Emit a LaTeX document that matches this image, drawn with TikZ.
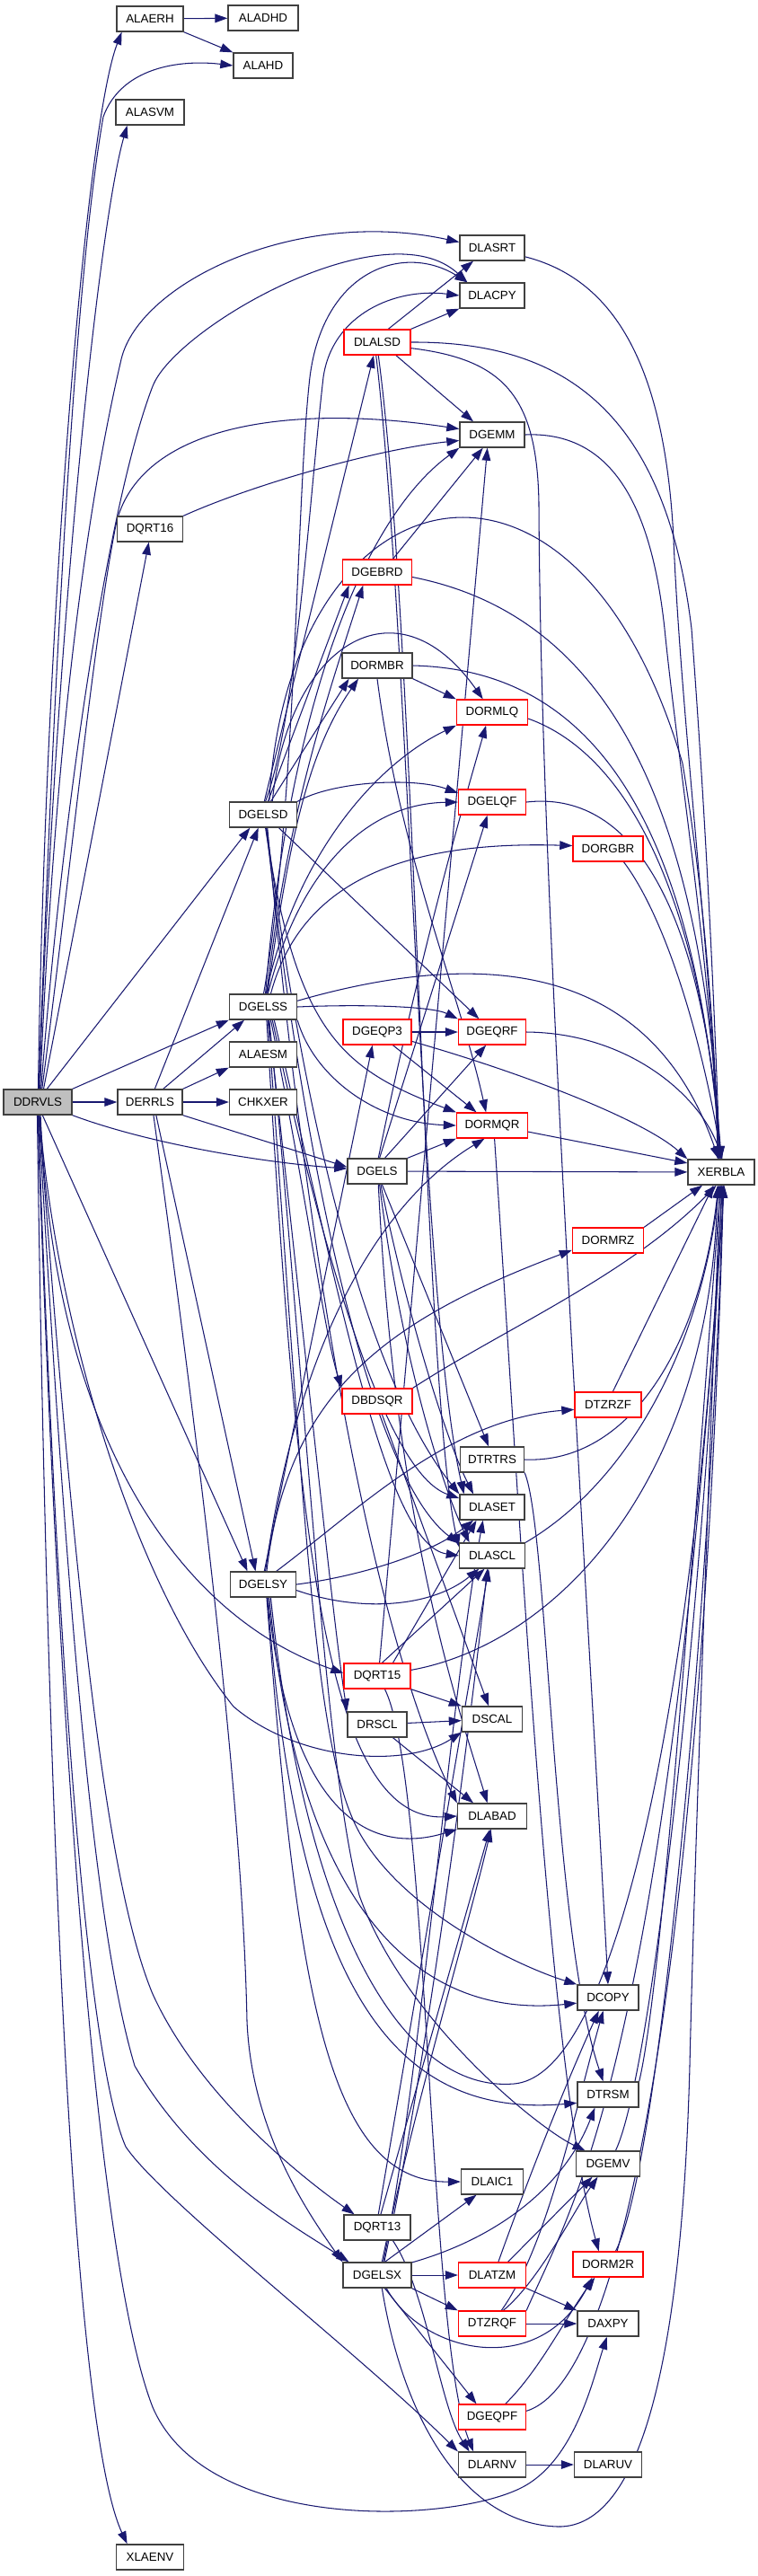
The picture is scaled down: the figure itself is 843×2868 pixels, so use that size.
\documentclass[tikz,border=0pt]{standalone}
\usepackage{fontspec}
\setmainfont{Liberation Sans}
\usetikzlibrary{arrows.meta}
\definecolor{edgec}{HTML}{191970}
\definecolor{rootg}{HTML}{BFBFBF}
\pgfdeclarelayer{bg}
\pgfsetlayers{bg,main}
\tikzset{
  nbox/.style={draw=black!75, line width=0.75pt, fill=white, minimum height=0.56cm, inner sep=0pt, font=\fontsize{7.6pt}{9pt}\selectfont},
  redb/.style={draw=red},
  bw/.style={minimum width=#1*0.02cm},
  ed/.style={draw=edgec, line width=0.6pt, -{Triangle[length=8pt,width=5.5pt]}}
}
\begin{document}
\begin{tikzpicture}[x=0.02cm,y=-0.02cm]
\useasboundingbox (0,0) rectangle (843,2868);
\node[nbox,bw=76,fill=rootg] (DDRVLS) at (42,1227) {DDRVLS};
\node[nbox,bw=74] (ALAERH) at (167,21) {ALAERH};
\node[nbox,bw=78] (ALADHD) at (293,20) {ALADHD};
\node[nbox,bw=66] (ALAHD) at (293,73) {ALAHD};
\node[nbox,bw=76] (ALASVM) at (167,125) {ALASVM};
\node[nbox,bw=72] (DLASRT) at (548,276) {DLASRT};
\node[nbox,bw=72] (DLACPY) at (548,329) {DLACPY};
\node[nbox,redb,bw=74] (DLALSD) at (420,381) {DLALSD};
\node[nbox,bw=72] (DGEMM) at (548,484) {DGEMM};
\node[nbox,bw=73] (DQRT16) at (167,589) {DQRT16};
\node[nbox,redb,bw=77] (DGEBRD) at (420,637) {DGEBRD};
\node[nbox,bw=78] (DORMBR) at (420,741) {DORMBR};
\node[nbox,redb,bw=79] (DORMLQ) at (548,793) {DORMLQ};
\node[nbox,redb,bw=75] (DGELQF) at (548,893) {DGELQF};
\node[nbox,bw=75] (DGELSD) at (293,907) {DGELSD};
\node[nbox,redb,bw=78] (DORGBR) at (677,945) {DORGBR};
\node[nbox,bw=75] (DGELSS) at (293,1121) {DGELSS};
\node[nbox,redb,bw=76] (DGEQP3) at (420,1149) {DGEQP3};
\node[nbox,redb,bw=75] (DGEQRF) at (548,1149) {DGEQRF};
\node[nbox,bw=75] (ALAESM) at (293,1174) {ALAESM};
\node[nbox,bw=72] (DERRLS) at (167,1227) {DERRLS};
\node[nbox,bw=75] (CHKXER) at (293,1227) {CHKXER};
\node[nbox,redb,bw=79] (DORMQR) at (548,1253) {DORMQR};
\node[nbox,bw=66] (DGELS) at (420,1304) {DGELS};
\node[nbox,bw=74] (XERBLA) at (803,1305) {XERBLA};
\node[nbox,redb,bw=79] (DORMRZ) at (677,1381) {DORMRZ};
\node[nbox,redb,bw=78] (DBDSQR) at (420,1560) {DBDSQR};
\node[nbox,redb,bw=74] (DTZRZF) at (677,1564) {DTZRZF};
\node[nbox,bw=71] (DTRTRS) at (548,1625) {DTRTRS};
\node[nbox,bw=72] (DLASET) at (548,1678) {DLASET};
\node[nbox,bw=73] (DLASCL) at (548,1732) {DLASCL};
\node[nbox,bw=73] (DGELSY) at (293,1764) {DGELSY};
\node[nbox,redb,bw=74] (DQRT15) at (420,1866) {DQRT15};
\node[nbox,bw=66] (DRSCL) at (420,1920) {DRSCL};
\node[nbox,bw=67] (DSCAL) at (548,1914) {DSCAL};
\node[nbox,bw=77] (DLABAD) at (548,2022) {DLABAD};
\node[nbox,bw=68] (DCOPY) at (677,2224) {DCOPY};
\node[nbox,bw=68] (DTRSM) at (677,2332) {DTRSM};
\node[nbox,bw=71] (DGEMV) at (677,2409) {DGEMV};
\node[nbox,bw=69] (DLAIC1) at (548,2429) {DLAIC1};
\node[nbox,bw=74] (DQRT13) at (420,2480) {DQRT13};
\node[nbox,bw=76] (DGELSX) at (420,2533) {DGELSX};
\node[nbox,redb,bw=75] (DLATZM) at (548,2533) {DLATZM};
\node[nbox,redb,bw=78] (DORM2R) at (677,2521) {DORM2R};
\node[nbox,redb,bw=75] (DTZRQF) at (548,2587) {DTZRQF};
\node[nbox,bw=68] (DAXPY) at (677,2587) {DAXPY};
\node[nbox,redb,bw=75] (DGEQPF) at (548,2691) {DGEQPF};
\node[nbox,bw=75] (DLARNV) at (548,2744) {DLARNV};
\node[nbox,bw=75] (DLARUV) at (677,2744) {DLARUV};
\node[nbox,bw=75] (XLAENV) at (167,2847) {XLAENV};

\begin{pgfonlayer}{bg}
% ALAERH
\draw[ed] (ALAERH) -- (ALADHD);
\draw[ed] (ALAERH.south east) -- (ALAHD.north west);
% DDRVLS
\draw[ed] (DDRVLS.88) .. controls (50,700) and (95,140) .. (ALAERH.205);
\draw[ed] (DDRVLS.86) .. controls (62,700) and (85,300) .. (115,130) .. controls (135,75) and (200,66) .. (ALAHD.west);
\draw[ed] (DDRVLS.84) .. controls (62,700) and (110,250) .. (ALASVM.210);
\draw[ed] (DDRVLS.80) .. controls (62,800) and (100,550) .. (135,400) .. controls (155,315) and (330,230) .. (DLASRT.170);
\draw[ed] (DDRVLS.76) .. controls (70,900) and (120,560) .. (170,430) .. controls (195,365) and (430,230) .. (DLACPY.152);
\draw[ed] (DDRVLS.72) .. controls (75,1000) and (105,700) .. (130,580) .. controls (160,470) and (330,450) .. (DGEMM.170);
\draw[ed] (DDRVLS.66) -- (DQRT16.265);
\draw[ed] (DDRVLS.55) -- (DGELSD.225);
\draw[ed] (DDRVLS.north east) -- (DGELSS.south west);
\draw[ed] (DDRVLS) -- (DERRLS);
\draw[ed] (DDRVLS.south east) .. controls (170,1275) and (300,1295) .. (DGELS.175);
\draw[ed] (DDRVLS.290) -- (DGELSY.140);
\draw[ed] (DDRVLS.282) .. controls (60,1600) and (200,1800) .. (DQRT15.175);
\draw[ed] (DDRVLS.278) .. controls (60,1450) and (140,1750) .. (260,1900) .. controls (330,1960) and (450,1970) .. (DSCAL.south west);
\draw[ed] (DDRVLS.276) .. controls (85,1800) and (120,2100) .. (170,2220) .. controls (220,2330) and (330,2420) .. (DQRT13.150);
\draw[ed] (DDRVLS.274) .. controls (75,1800) and (105,2150) .. (150,2300) .. controls (220,2420) and (330,2480) .. (DGELSX.155);
\draw[ed] (DDRVLS.272) .. controls (65,1900) and (100,2300) .. (140,2390) .. controls (180,2450) and (400,2620) .. (DLARNV.north west);
\draw[ed] (DDRVLS.270) .. controls (60,1800) and (100,2500) .. (170,2680) .. controls (230,2820) and (500,2810) .. (580,2770) .. controls (640,2740) and (660,2650) .. (DAXPY.265);
\draw[ed] (DDRVLS.268) .. controls (52,2000) and (80,2700) .. (XLAENV.150);
% DERRLS
\draw[ed] (DERRLS.north east) -- (ALAESM.south west);
\draw[ed] (DERRLS) -- (CHKXER);
\draw[ed] (DERRLS.south east) -- (DGELS.172);
\draw[ed] (DERRLS.45) -- (DGELSS.215);
\draw[ed] (DERRLS.70) -- (DGELSD.250);
\draw[ed] (DERRLS.295) -- (DGELSY.120);
\draw[ed] (DERRLS.285) .. controls (220,1600) and (270,2000) .. (275,2250) .. controls (280,2370) and (340,2460) .. (DGELSX.north west);
% DQRT16
\draw[ed] (DQRT16.north east) .. controls (280,540) and (420,500) .. (DGEMM.190);
% DLASRT, DGEMM
\draw[ed] (DLASRT.345) .. controls (680,310) and (740,400) .. (750,600) .. controls (758,800) and (795,1100) .. (XERBLA.103);
\draw[ed] (DGEMM.east) .. controls (680,480) and (725,560) .. (740,700) .. controls (755,850) and (795,1100) .. (XERBLA.105);
% DLALSD
\draw[ed] (DLALSD.50) -- (DLASRT.215);
\draw[ed] (DLALSD.north east) -- (DLACPY.south west);
\draw[ed] (DLALSD.325) -- (DGEMM.145);
\draw[ed] (DLALSD.350) .. controls (560,400) and (598,440) .. (600,560) .. controls (602,1000) and (650,1700) .. (DCOPY.north);
\draw[ed] (DLALSD.east) .. controls (620,380) and (740,450) .. (770,700) .. controls (785,900) and (795,1100) .. (XERBLA.97);
\draw[ed] (DLALSD.265) .. controls (455,700) and (468,1450) .. (DLASET.155);
\draw[ed] (DLALSD.275) .. controls (462,700) and (472,1550) .. (DLASCL.165);
% DGEBRD
\draw[ed] (DGEBRD.40) -- (DGEMM.235);
\draw[ed] (DGEBRD.352) .. controls (650,680) and (780,850) .. (XERBLA.95);
% DORMBR
\draw[ed] (DORMBR.south east) -- (DORMLQ.north west);
\draw[ed] (DORMBR.south) .. controls (445,950) and (510,1100) .. (DORMQR.115);
\draw[ed] (DORMBR.east) .. controls (640,745) and (770,880) .. (XERBLA.93);
% DORMLQ, DGELQF, DORGBR
\draw[ed] (DORMLQ.350) .. controls (700,840) and (780,1000) .. (XERBLA.91);
\draw[ed] (DGELQF.east) .. controls (700,880) and (780,1000) .. (XERBLA.89);
\draw[ed] (DORGBR.320) .. controls (740,1020) and (780,1150) .. (XERBLA.87);
% DGEQP3, DGEQRF
\draw[ed] (DGEQP3) -- (DGEQRF);
\draw[ed] (DGEQP3.320) -- (DORMQR.140);
\draw[ed] (DGEQP3.345) .. controls (600,1200) and (720,1250) .. (XERBLA.north west);
\draw[ed] (DGEQRF.east) .. controls (700,1150) and (780,1220) .. (XERBLA.85);
% DGELSD
\draw[ed] (DGELSD.70) -- (DGEBRD.205);
\draw[ed] (DGELSD.85) -- (DLALSD.255);
\draw[ed] (DGELSD.80) .. controls (330,800) and (345,550) .. (360,420) .. controls (370,350) and (440,320) .. (DLACPY.west);
\draw[ed] (DGELSD.60) -- (DORMBR.205);
\draw[ed] (DGELSD.55) .. controls (320,720) and (440,640) .. (DORMLQ.125);
\draw[ed] (DGELSD.north east) .. controls (370,870) and (460,865) .. (DGELQF.165);
\draw[ed] (DGELSD.320) -- (DGEQRF.135);
\draw[ed] (DGELSD.280) .. controls (330,1150) and (380,1190) .. (DORMQR.north west);
\draw[ed] (DGELSD.285) .. controls (345,1300) and (420,1550) .. (DLASET.north west);
\draw[ed] (DGELSD.283) .. controls (345,1350) and (420,1650) .. (DLASCL.160);
\draw[ed] (DGELSD.288) .. controls (350,1500) and (430,1850) .. (DLABAD.north west);
\draw[ed] (DGELSD.65) .. controls (320,520) and (640,440) .. (760,850) .. controls (785,1000) and (795,1150) .. (XERBLA.99);
% DGELSS
\draw[ed] (DGELSS.88) .. controls (330,900) and (330,550) .. (345,420) .. controls (360,300) and (450,270) .. (DLACPY.152);
\draw[ed] (DGELSS.75) .. controls (320,900) and (370,760) .. (DGEBRD.223);
\draw[ed] (DGELSS.70) .. controls (330,980) and (400,895) .. (DGELQF.west);
\draw[ed] (DGELSS.80) .. controls (320,800) and (400,580) .. (DGEMM.south west);
\draw[ed] (DGELSS.72) .. controls (320,950) and (340,840) .. (DORMBR.215);
\draw[ed] (DGELSS.78) .. controls (330,950) and (420,850) .. (DORMLQ.south west);
\draw[ed] (DGELSS.60) .. controls (330,1000) and (420,935) .. (DORGBR.175);
\draw[ed] (DGELSS.east) .. controls (400,1118) and (480,1120) .. (DGEQRF.north west);
\draw[ed] (DGELSS.south east) .. controls (350,1200) and (420,1250) .. (DORMQR.west);
\draw[ed] (DGELSS.10) .. controls (520,1060) and (720,1060) .. (XERBLA.101);
\draw[ed] (DGELSS.300) .. controls (345,1350) and (360,1480) .. (DBDSQR.north west);
\draw[ed] (DGELSS.292) .. controls (340,1500) and (370,1800) .. (DRSCL.north west);
\draw[ed] (DGELSS.285) .. controls (330,1700) and (360,2030) .. (DLABAD.west);
\draw[ed] (DGELSS.290) .. controls (340,1700) and (350,1950) .. (400,2040) .. controls (450,2130) and (580,2190) .. (DCOPY.north west);
\draw[ed] (DGELSS.295) .. controls (345,1600) and (360,1950) .. (400,2110) .. controls (450,2250) and (600,2370) .. (DGEMV.150);
\draw[ed] (DGELSS.305) .. controls (360,1400) and (430,1640) .. (DLASET.165);
\draw[ed] (DGELSS.310) .. controls (380,1450) and (430,1720) .. (DLASCL.west);
% DGELS
\draw[ed] (DGELS.80) -- (DGELQF.250);
\draw[ed] (DGELS.60) -- (DGEQRF.245);
\draw[ed] (DGELS.85) .. controls (460,1100) and (500,950) .. (DORMLQ.245);
\draw[ed] (DGELS.north east) -- (DORMQR.south west);
\draw[ed] (DGELS.290) -- (DTRTRS.105);
\draw[ed] (DGELS) -- (XERBLA);
\draw[ed] (DGELS.285) .. controls (450,1450) and (495,1600) .. (DLASET.145);
\draw[ed] (DGELS.280) .. controls (445,1500) and (490,1650) .. (DLASCL.150);
\draw[ed] (DGELS.275) .. controls (440,1700) and (510,1900) .. (DLABAD.110);
% DGELSY
\draw[ed] (DGELSY.85) -- (DGEQP3.250);
\draw[ed] (DGELSY.80) .. controls (330,1500) and (420,1340) .. (DORMQR.240);
\draw[ed] (DGELSY.75) .. controls (320,1550) and (430,1470) .. (DORMRZ.195);
\draw[ed] (DGELSY.45) .. controls (400,1680) and (500,1580) .. (DTZRZF.188);
\draw[ed] (DGELSY.east) .. controls (400,1755) and (480,1730) .. (DLASET.215);
\draw[ed] (DGELSY.350) .. controls (400,1795) and (480,1790) .. (DLASCL.225);
\draw[ed] (DGELSY.290) .. controls (320,2000) and (400,2070) .. (DLABAD.south west);
\draw[ed] (DGELSY.285) .. controls (330,2200) and (360,2430) .. (DLAIC1.west);
\draw[ed] (DGELSY.295) .. controls (330,2100) and (450,2250) .. (DCOPY.190);
\draw[ed] (DGELSY.288) .. controls (330,2200) and (430,2360) .. (DTRSM.195);
\draw[ed] (DGELSY.300) .. controls (340,2150) and (450,2330) .. (572,2320) .. controls (700,2310) and (780,1800) .. (XERBLA.275);
% DGELSX
\draw[ed] (DGELSX) -- (DLATZM);
\draw[ed] (DGELSX.south east) -- (DTZRQF.north west);
\draw[ed] (DGELSX.300) -- (DGEQPF.140);
\draw[ed] (DGELSX.305) .. controls (470,2620) and (600,2650) .. (DORM2R.220);
\draw[ed] (DGELSX.290) .. controls (450,2700) and (520,2810) .. (621,2813) .. controls (720,2815) and (760,2600) .. (768,2300) .. controls (775,2000) and (795,1500) .. (XERBLA.265);
\draw[ed] (DGELSX.60) -- (DLAIC1.220);
\draw[ed] (DGELSX.20) .. controls (560,2490) and (630,2430) .. (DTRSM.225);
\draw[ed] (DGELSX.65) .. controls (470,2300) and (500,1900) .. (DLASET.235);
\draw[ed] (DGELSX.62) .. controls (475,2300) and (520,1950) .. (DLASCL.250);
\draw[ed] (DGELSX.70) .. controls (460,2350) and (520,2150) .. (DLABAD.265);
% DQRT13
\draw[ed] (DQRT13.320) .. controls (475,2550) and (490,2680) .. (DLARNV.150);
\draw[ed] (DQRT13.85) -- (DLASCL.255);
\draw[ed] (DQRT13.75) -- (DLABAD.260);
% DQRT15
\draw[ed] (DQRT15.80) -- (DGEMM.250);
\draw[ed] (DQRT15.40) -- (DLASET.220);
\draw[ed] (DQRT15.70) -- (DLASCL.240);
\draw[ed] (DQRT15.10) .. controls (620,1830) and (790,1650) .. (XERBLA.255);
\draw[ed] (DQRT15.south east) -- (DSCAL.north west);
\draw[ed] (DQRT15.300) .. controls (478,1980) and (476,2600) .. (DLARNV.145);
% DRSCL, DBDSQR
\draw[ed] (DRSCL) -- (DSCAL);
\draw[ed] (DRSCL.320) -- (DLABAD.145);
\draw[ed] (DBDSQR.north east) .. controls (560,1480) and (700,1420) .. (XERBLA.250);
\draw[ed] (DBDSQR.290) -- (DSCAL.105);
% misc to XERBLA
\draw[ed] (DORMQR.350) -- (XERBLA.165);
\draw[ed] (DORMQR.280) .. controls (580,1700) and (610,2300) .. (DORM2R.125);
\draw[ed] (DORMRZ.north east) -- (XERBLA.215);
\draw[ed] (DTZRZF.70) -- (XERBLA.240);
\draw[ed] (DTRTRS.east) .. controls (700,1630) and (780,1500) .. (XERBLA.258);
\draw[ed] (DTRTRS.south east) .. controls (610,1700) and (615,2150) .. (DTRSM.110);
\draw[ed] (DLASCL.north east) .. controls (700,1650) and (780,1500) .. (XERBLA.262);
\draw[ed] (DTRSM.north east) .. controls (740,2200) and (780,1600) .. (XERBLA.268);
\draw[ed] (DGEMV.60) .. controls (730,2300) and (790,1700) .. (XERBLA.272);
\draw[ed] (DORM2R.60) .. controls (740,2400) and (795,1700) .. (XERBLA.278);
\draw[ed] (DGEQPF.10) .. controls (730,2640) and (790,1900) .. (XERBLA.280);
\draw[ed] (DTZRQF.north east) .. controls (640,2450) and (740,2300) .. (XERBLA.283);
% DLATZM, DTZRQF, DGEQPF, DLARNV
\draw[ed] (DLATZM.40) -- (DGEMV.220);
\draw[ed] (DLATZM.65) .. controls (590,2420) and (630,2320) .. (DCOPY.235);
\draw[ed] (DLATZM.south east) -- (DAXPY.north west);
\draw[ed] (DTZRQF) -- (DAXPY);
\draw[ed] (DTZRQF.50) .. controls (600,2540) and (640,2460) .. (DGEMV.232);
\draw[ed] (DTZRQF.55) .. controls (610,2500) and (640,2350) .. (DCOPY.250);
\draw[ed] (DGEQPF.45) .. controls (600,2640) and (630,2580) .. (DORM2R.225);
\draw[ed] (DLARNV) -- (DLARUV);
\end{pgfonlayer}
\end{tikzpicture}
\end{document}
